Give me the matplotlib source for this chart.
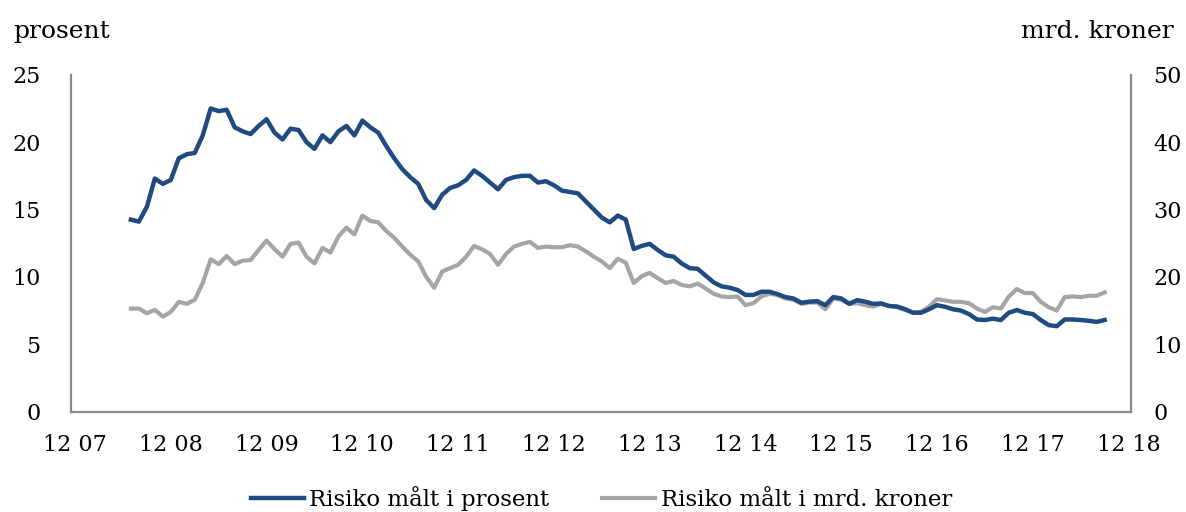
import matplotlib
matplotlib.use("Agg")
import matplotlib.pyplot as plt
import pandas as pd

# Monthly data, Jul 2008 - Sep 2018
months = pd.date_range("2008-07-01", periods=123, freq="MS")

risiko_prosent = [
    14.25, 14.1, 15.2, 17.3, 16.9, 17.2, 18.8, 19.1, 19.2, 20.5, 22.5, 22.3,
    22.4, 21.1, 20.8, 20.6, 21.2, 21.7, 20.7, 20.2, 21.0, 20.9, 20.0, 19.5,
    20.5, 20.0, 20.8, 21.2, 20.5, 21.6, 21.1, 20.7, 19.7, 18.8, 18.0, 17.4,
    16.9, 15.7, 15.1, 16.1, 16.6, 16.8, 17.2, 17.9, 17.5, 17.0, 16.5, 17.2,
    17.4, 17.5, 17.5, 17.0, 17.1, 16.8, 16.4, 16.3, 16.2, 15.6, 15.0, 14.4,
    14.05, 14.55, 14.25, 12.07, 12.3, 12.45, 12.0, 11.6, 11.5, 11.0, 10.65, 10.6,
    10.1, 9.6, 9.3, 9.2, 9.03, 8.66, 8.66, 8.9, 8.9, 8.73, 8.5, 8.4,
    8.08, 8.16, 8.2, 7.9, 8.5, 8.4, 8.0, 8.28, 8.16, 8.0, 8.03, 7.84,
    7.8, 7.6, 7.34, 7.34, 7.6, 7.9, 7.78, 7.6, 7.5, 7.24, 6.84, 6.8,
    6.9, 6.8, 7.34, 7.54, 7.34, 7.24, 6.8, 6.42, 6.34, 6.84, 6.84, 6.8,
    6.74, 6.66, 6.8,
]

risiko_mrd = [
    15.3, 15.3, 14.6, 15.1, 14.1, 14.8, 16.3, 16.0, 16.6, 19.1, 22.6, 21.9,
    23.1, 21.9, 22.4, 22.5, 24.0, 25.4, 24.1, 23.0, 24.9, 25.1, 23.0, 22.0,
    24.3, 23.6, 26.0, 27.3, 26.3, 29.1, 28.3, 28.1, 26.8, 25.8, 24.5, 23.3,
    22.3, 20.0, 18.4, 20.8, 21.3, 21.8, 23.0, 24.6, 24.1, 23.4, 21.8, 23.4,
    24.5, 24.9, 25.2, 24.3, 24.5, 24.4, 24.4, 24.7, 24.5, 23.8, 23.0, 22.3,
    21.3, 22.7, 22.1, 19.1, 20.1, 20.6, 19.8, 19.1, 19.4, 18.8, 18.6, 19.0,
    18.3, 17.5, 17.1, 17.0, 17.1, 15.8, 16.1, 17.1, 17.5, 17.3, 16.8, 16.6,
    16.0, 16.2, 16.2, 15.2, 16.8, 16.6, 16.0, 16.1, 15.8, 15.6, 16.0, 15.7,
    15.5, 15.1, 14.7, 14.8, 15.6, 16.7, 16.5, 16.3, 16.3, 16.1, 15.3, 14.8,
    15.5, 15.3, 17.1, 18.2, 17.6, 17.6, 16.3, 15.5, 15.0, 17.0, 17.1, 17.0,
    17.2, 17.2, 17.7,
]

tick_dates = pd.date_range("2007-12-01", "2018-12-01", freq="12MS")
tick_labels = [d.strftime("%m %y") for d in tick_dates]

BLUE = "#1f4b80"
GREY = "#a5a5a5"
SPINE = "#8a8a8a"

plt.rcParams["font.family"] = "DejaVu Serif"

fig = plt.figure(figsize=(11.86, 5.12), dpi=100)
ax = fig.add_axes([0.0599, 0.196, 0.8937, 0.658])
ax2 = ax.twinx()

# month index since Dec 2007 as x
def idx(d):
    return (d.year - 2007) * 12 + d.month - 12

x = [idx(d) for d in months]

l2, = ax2.plot(x, risiko_mrd, color=GREY, lw=3.0, solid_joinstyle="round")
l1, = ax.plot(x, risiko_prosent, color=BLUE, lw=3.2, solid_joinstyle="round")
ax.set_zorder(ax2.get_zorder() + 1)
ax.patch.set_visible(False)

ax.set_xlim(-0.5, 132.3)
ax.set_ylim(0, 25)
ax2.set_ylim(0, 50)
ax.set_yticks(range(0, 26, 5))
ax2.set_yticks(range(0, 51, 10))
ax.set_xticks([idx(d) for d in tick_dates])
ax.set_xticklabels(tick_labels)

for a in (ax, ax2):
    for s in a.spines.values():
        s.set_visible(False)
ax.spines["left"].set_visible(True)
ax.spines["bottom"].set_visible(True)
ax2.spines["right"].set_visible(True)
for s in (ax.spines["left"], ax.spines["bottom"], ax2.spines["right"]):
    s.set_color(SPINE)
    s.set_linewidth(1.6)

ax.tick_params(axis="y", length=0, pad=22, labelsize=16)
ax.tick_params(axis="x", length=0, pad=16, labelsize=16)
ax2.tick_params(axis="y", length=0, pad=16, labelsize=16)

fig.text(13 / 1186, 1 - 38 / 512, "prosent", fontsize=18, ha="left", va="baseline")
fig.text(1174 / 1186, 1 - 38 / 512, "mrd. kroner", fontsize=18, ha="right", va="baseline")

leg = fig.legend([l1, l2], ["Risiko målt i prosent", "Risiko målt i mrd. kroner"],
                 loc="center", bbox_to_anchor=(0.507, 0.027), ncol=2, frameon=False,
                 fontsize=16.5, handlelength=2.3, handletextpad=0.25, columnspacing=2.3)

fig.savefig("out.png", dpi=100)
